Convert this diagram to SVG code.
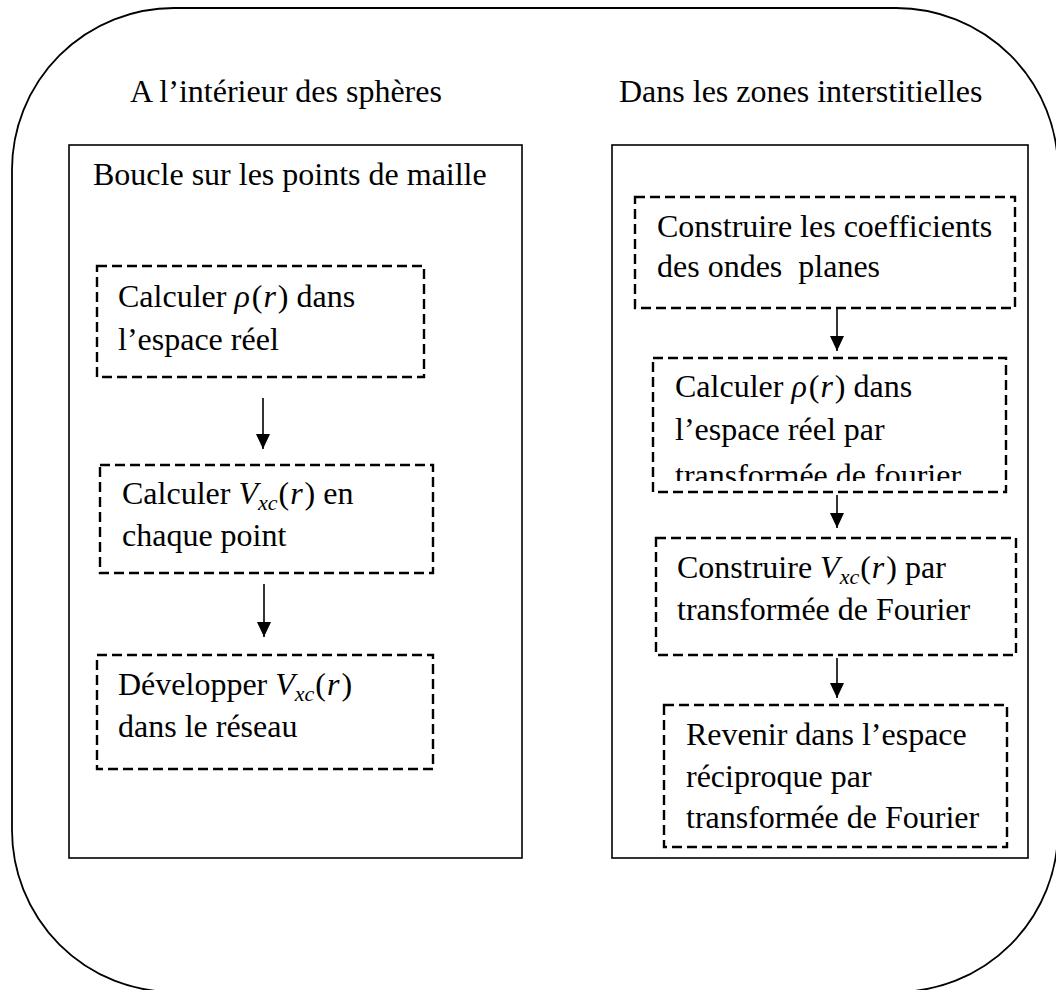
<svg xmlns="http://www.w3.org/2000/svg" width="1056" height="990" viewBox="0 0 1056 990">
  <defs>
    <style>
      text { font-family: "Liberation Serif", "Times New Roman", serif; font-size: 32px; fill: #000; }
      .m { font-style: italic; }
      .sub { font-style: italic; font-size: 22px; }
      .frame { fill: none; stroke: #000; stroke-width: 1.8; }
      .panel { fill: none; stroke: #000; stroke-width: 1.6; }
      .step { fill: none; stroke: #000; stroke-width: 2.4; stroke-dasharray: 10 5; }
      .edge { fill: none; stroke: #000; stroke-width: 1.6; marker-end: url(#arrow); }
    </style>
    <marker id="arrow" markerUnits="userSpaceOnUse" markerWidth="16" markerHeight="15" refX="15" refY="7" orient="auto">
      <path d="M0,0 L15,7 L0,14 z" fill="#000"/>
    </marker>
    <clipPath id="clipB">
      <rect x="640" y="360" width="380" height="121"/>
    </clipPath>
  </defs>

  <!-- outer rounded frame -->
  <rect id="frame" class="frame" x="12" y="8" width="1046" height="984" rx="162" ry="162"/>

  <!-- column titles -->
  <text id="title-left" x="130" y="102">A l’intérieur des sphères</text>
  <text id="title-right" x="619" y="102">Dans les zones interstitielles</text>

  <!-- left panel -->
  <g id="panel-left">
    <rect class="panel" x="69" y="145" width="453" height="713"/>
    <text x="93" y="185">Boucle sur les points de maille</text>
  </g>

  <g id="step-rho-sphere">
    <rect class="step" x="97" y="266" width="327" height="111"/>
    <text x="118" y="307">Calculer <tspan class="m">ρ</tspan><tspan dx="2">(</tspan><tspan class="m" dx="1">r</tspan><tspan dx="2">)</tspan> dans</text>
    <text x="118" y="350">l’espace réel</text>
  </g>

  <g id="step-vxc-sphere">
    <rect class="step" x="100" y="465" width="333" height="108"/>
    <text x="122" y="504">Calculer <tspan class="m">V</tspan><tspan class="sub" dy="6">xc</tspan><tspan dy="-6" dx="1">(</tspan><tspan class="m" dx="1">r</tspan><tspan dx="2">)</tspan> en</text>
    <text x="122" y="546">chaque point</text>
  </g>

  <g id="step-expand-sphere">
    <rect class="step" x="97" y="655" width="336" height="114"/>
    <text x="118" y="695">Développer <tspan class="m">V</tspan><tspan class="sub" dy="6">xc</tspan><tspan dy="-6" dx="1">(</tspan><tspan class="m" dx="1">r</tspan><tspan dx="2">)</tspan></text>
    <text x="118" y="737">dans le réseau</text>
  </g>

  <!-- right panel -->
  <g id="panel-right">
    <rect class="panel" x="612" y="145" width="416" height="713"/>
  </g>

  <g id="step-coeffs">
    <rect class="step" x="635" y="197" width="380" height="111"/>
    <text x="657" y="237">Construire les coefficients</text>
    <text x="657" y="277" style="white-space:pre">des ondes  planes</text>
  </g>

  <g id="step-rho-interstitial">
    <rect class="step" x="653" y="358" width="353" height="134"/>
    <text x="675" y="397">Calculer <tspan class="m">ρ</tspan><tspan dx="2">(</tspan><tspan class="m" dx="1">r</tspan><tspan dx="2">)</tspan> dans</text>
    <text x="675" y="440">l’espace réel par</text>
    <text x="675" y="486" clip-path="url(#clipB)">transformée de fourier</text>
  </g>

  <g id="step-vxc-interstitial">
    <rect class="step" x="656" y="538" width="360" height="117"/>
    <text x="677" y="578">Construire <tspan class="m">V</tspan><tspan class="sub" dy="6">xc</tspan><tspan dy="-6" dx="1">(</tspan><tspan class="m" dx="1">r</tspan><tspan dx="2">)</tspan> par</text>
    <text x="677" y="620">transformée de Fourier</text>
  </g>

  <g id="step-back-reciprocal">
    <rect class="step" x="664" y="705" width="343" height="142"/>
    <text x="686" y="745">Revenir dans l’espace</text>
    <text x="686" y="787">réciproque par</text>
    <text x="686" y="828">transformée de Fourier</text>
  </g>

  <!-- connectors -->
  <g id="connectors">
    <line class="edge" x1="263" y1="398" x2="263" y2="449"/>
    <line class="edge" x1="264" y1="584" x2="264" y2="637"/>
    <line class="edge" x1="837" y1="308" x2="837" y2="351"/>
    <line class="edge" x1="837" y1="495" x2="837" y2="528"/>
    <line class="edge" x1="837" y1="658" x2="837" y2="698"/>
  </g>
</svg>
